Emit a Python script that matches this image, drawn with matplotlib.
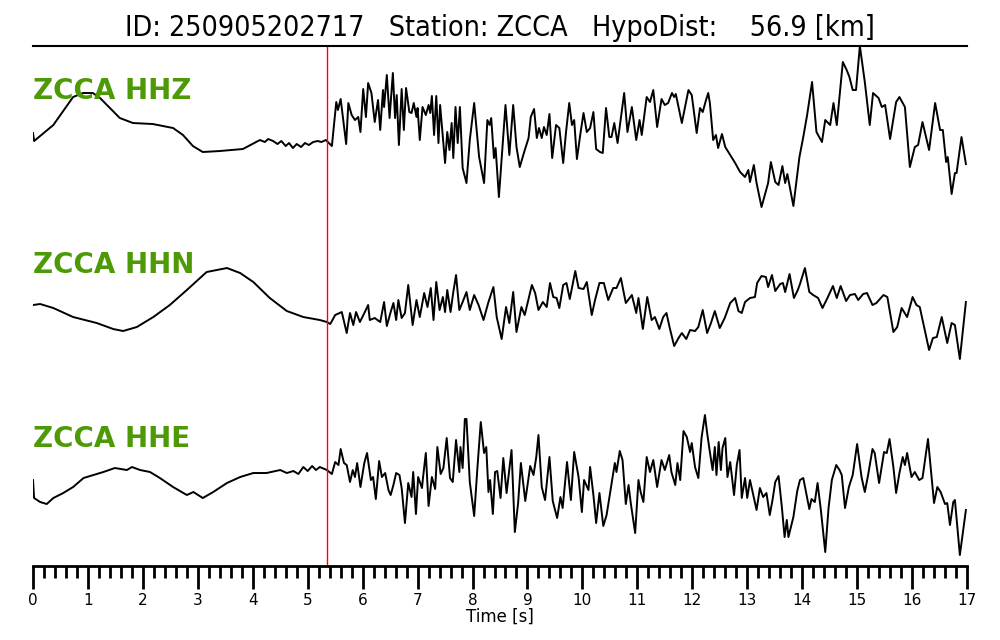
import matplotlib
matplotlib.use("Agg")
import matplotlib.pyplot as plt
from matplotlib.ticker import MultipleLocator

# title info
event_id = "250905202717"
station = "ZCCA"
hypo_dist = 56.9
p_pick = 5.35  # seconds

channels = ["HHZ", "HHN", "HHE"]

# traces (time [s], amplitude in arbitrary counts)
hhz_t = [0.0, 0.02, 0.37, 0.73, 0.91, 1.09, 1.22, 1.40, 1.58, 1.82, 2.18, 2.55, 2.73, 2.91, 3.09,
         3.40, 3.82, 4.13, 4.22, 4.28, 4.37, 4.45, 4.52, 4.60, 4.66, 4.73, 4.80, 4.88, 4.95, 5.02,
         5.10, 5.18, 5.25, 5.33, 5.44,
         5.52, 5.55, 5.60, 5.70, 5.74, 5.80, 5.86, 5.92, 5.96, 6.01, 6.06, 6.10, 6.16, 6.22, 6.28,
         6.32, 6.37, 6.39, 6.44, 6.49, 6.55, 6.59, 6.62, 6.66, 6.71, 6.75, 6.79, 6.85, 6.89, 6.93,
         6.98, 7.00, 7.04, 7.09, 7.15, 7.20, 7.23, 7.26, 7.30, 7.34, 7.38, 7.41, 7.50, 7.54, 7.58,
         7.62, 7.65, 7.69, 7.73, 7.77, 7.82, 7.89, 7.95, 8.03, 8.12, 8.21, 8.27, 8.31, 8.34, 8.39,
         8.42, 8.48, 8.55, 8.60, 8.67, 8.74, 8.80, 8.86, 8.94, 9.02, 9.06, 9.12, 9.17, 9.21, 9.26,
         9.30, 9.35, 9.40, 9.45, 9.52, 9.58, 9.65, 9.70, 9.76, 9.81, 9.85, 9.90, 9.96, 10.02, 10.08,
         10.14, 10.20, 10.25, 10.32, 10.37, 10.43, 10.49, 10.53, 10.58, 10.64, 10.76, 10.82, 10.90,
         10.98, 11.04, 11.08, 11.17, 11.23, 11.29, 11.36, 11.44, 11.50, 11.56, 11.63, 11.67, 11.70,
         11.81, 11.93, 11.99, 12.08, 12.14, 12.19, 12.25, 12.29, 12.32, 12.38, 12.43, 12.47, 12.54,
         12.60, 12.69, 12.78, 12.87, 12.96, 13.02, 13.05, 13.12, 13.17, 13.26, 13.32, 13.38, 13.43,
         13.51, 13.57, 13.64, 13.69, 13.73, 13.84, 13.95, 14.02, 14.09, 14.18, 14.26, 14.36, 14.42,
         14.51, 14.57, 14.63, 14.74, 14.81, 14.86, 14.92, 14.98, 15.05, 15.14, 15.23, 15.29, 15.39,
         15.45, 15.51, 15.60, 15.71, 15.77, 15.87, 15.96, 16.05, 16.11, 16.19, 16.31, 16.42, 16.51,
         16.56, 16.62, 16.65, 16.72, 16.78, 16.81, 16.90, 16.98]
hhz_a = [7, -1, 15, 43, 47, 47, 42, 32, 22, 17, 16, 12, 5, -6, -12,
         -11, -9, 0, -2, 1, -1, -4, -1, -6, -3, -8, -4, -7, -3, -5,
         -2, -1, -2, 0, -6,
         38, 30, 41, -4, 37, 25, 20, 23, 8, 51, 23, 57, 47, 18, 40,
         10, 50, 33, 65, 22, 67, 22, 45, -5, 51, 10, 52, 28, 27, 37,
         23, 32, 0, 33, 25, 35, 27, 44, 5, 44, -3, 35, -23, 8, -10,
         17, -18, 33, -3, 33, -28, -43, 0, 37, -17, -43, 20, 15, 22, -18,
         -8, -57, -3, 35, -15, 35, -7, -27, -12, 2, 23, 31, 2, 12, 2,
         13, 5, 26, -18, 15, 12, -23, 7, 37, 15, 20, -19, 5, 27, 8,
         12, 28, -9, -12, -13, 32, 3, 3, 17, -3, 47, 8, 33,
         0, 20, 5, 43, 38, 50, 13, 41, 35, 37, 47, 43, 46,
         17, 50, 45, 7, 32, 28, 40, 47, 37, 0, 5, -8, 6,
         -7, -15, -23, -32, -37, -30, -42, -25, -43, -67, -55, -43, -22,
         -42, -45, -26, -43, -34, -66, -17, 3, 25, 58, 8, -2, 20,
         15, 37, 15, 78, 70, 63, 50, 50, 94, 58, 15, 47, 42,
         33, 35, 1, 38, 43, 33, -27, -7, -5, 18, -10, 37, 10,
         10, -22, -17, -54, -33, -33, 3, -24]

hhn_t = [0.0, 0.13, 0.37, 0.73, 1.16, 1.46, 1.64, 1.89, 2.19, 2.49, 2.80, 3.16, 3.53, 3.77, 4.01,
         4.31, 4.62, 4.92, 5.22, 5.35, 5.41,
         5.50, 5.62, 5.71, 5.77, 5.83, 5.88, 5.95, 6.04, 6.10, 6.13, 6.22, 6.32, 6.39, 6.44, 6.51,
         6.56, 6.61, 6.65, 6.71, 6.77, 6.83, 6.91, 6.98, 7.04, 7.12, 7.18, 7.24, 7.29, 7.34, 7.40,
         7.46, 7.50, 7.54, 7.60, 7.65, 7.70, 7.76, 7.82, 7.89, 7.95, 8.03, 8.11, 8.20, 8.29, 8.38,
         8.44, 8.53, 8.61, 8.67, 8.74, 8.80, 8.89, 8.95, 9.08, 9.14, 9.20, 9.28, 9.35, 9.41, 9.47,
         9.53, 9.58, 9.65, 9.71, 9.77, 9.87, 9.93, 10.02, 10.08, 10.17, 10.23, 10.31, 10.39, 10.47,
         10.56, 10.62, 10.70, 10.79, 10.90, 10.98, 11.02, 11.10, 11.18, 11.26, 11.32, 11.40, 11.47,
         11.53, 11.59, 11.67, 11.75, 11.81, 11.89, 11.96, 12.05, 12.11, 12.19, 12.27, 12.34, 12.41,
         12.50, 12.59, 12.69, 12.78, 12.84, 12.90, 12.96, 13.05, 13.14, 13.18, 13.26, 13.34, 13.38,
         13.45, 13.51, 13.60, 13.65, 13.69, 13.77, 13.85, 13.92, 13.96, 14.05, 14.13, 14.20, 14.29,
         14.37, 14.46, 14.56, 14.63, 14.70, 14.80, 14.87, 14.96, 15.02, 15.11, 15.18, 15.28, 15.35,
         15.48, 15.55, 15.66, 15.73, 15.81, 15.91, 16.01, 16.08, 16.14, 16.31, 16.38, 16.45, 16.54,
         16.64, 16.72, 16.78, 16.87, 16.98]
hhn_a = [0, 1, -3, -12, -18, -24, -26, -22, -12, 0, 15, 33, 37, 32, 23,
         7, -6, -12, -15, -17, -19,
         -10, -7, -28, -8, -20, -7, -17, -7, 0, -15, -13, -17, 3, -21, -7,
         2, -15, 5, -13, -8, 20, -20, 5, -12, 12, -2, 17, -15, 23, -5,
         8, -7, 15, -7, 13, 30, -5, 3, 13, -5, 10, 0, -15, 3, 18,
         -12, -34, -2, -18, 13, -27, -2, -10, 20, 12, -5, 3, -2, 22, 8,
         7, -3, 20, 22, 6, 34, 17, 16, 23, -10, 5, 22, 22, 5,
         17, 17, 27, 2, 10, -8, 7, -24, 8, -15, -12, -24, -12,
         -8, -23, -41, -33, -28, -34, -25, -26, -22, -5, -28, -18, -6,
         -23, -13, 2, 7, -6, -8, 3, 7, 8, 22, 29, 28, 18,
         30, 14, 21, 22, 13, 31, 7, 15, 21, 37, 13, 10, 7,
         -3, 7, 19, 7, 19, 4, 10, 11, 5, 11, 12, 0, 2,
         10, 8, -27, -22, -3, -12, 8, 0, -2, -45, -33, -32, -12,
         -38, -18, -20, -54, 3]

hhe_t = [0.0, 0.02, 0.13, 0.25, 0.37, 0.55, 0.73, 0.92, 1.10, 1.28, 1.49, 1.71, 1.80, 1.95, 2.13,
         2.31, 2.55, 2.80, 2.92, 3.09, 3.28, 3.53, 3.77, 4.01, 4.25, 4.50, 4.62, 4.74, 4.83, 4.92,
         5.00, 5.08, 5.15, 5.22, 5.35, 5.44,
         5.50, 5.56, 5.60, 5.66, 5.71, 5.77, 5.82, 5.86, 5.90, 5.96, 6.03, 6.08, 6.15, 6.19, 6.24,
         6.30, 6.35, 6.41, 6.47, 6.51, 6.56, 6.61, 6.67, 6.71, 6.77, 6.83, 6.89, 6.92, 6.97, 7.01,
         7.08, 7.10, 7.15, 7.20, 7.26, 7.32, 7.36, 7.42, 7.47, 7.53, 7.59, 7.64, 7.70, 7.76, 7.78,
         7.82, 7.86, 7.89, 7.95, 8.03, 8.09, 8.15, 8.21, 8.25, 8.29, 8.32, 8.37, 8.41, 8.45, 8.51,
         8.56, 8.62, 8.71, 8.77, 8.83, 8.88, 8.96, 9.05, 9.11, 9.16, 9.20, 9.26, 9.32, 9.40, 9.46,
         9.54, 9.60, 9.64, 9.72, 9.79, 9.85, 9.93, 9.99, 10.03, 10.11, 10.14, 10.20, 10.25, 10.31,
         10.38, 10.44, 10.52, 10.59, 10.62, 10.68, 10.73, 10.79, 10.84, 10.88, 10.96, 11.02, 11.06,
         11.11, 11.17, 11.23, 11.29, 11.36, 11.44, 11.50, 11.58, 11.62, 11.69, 11.73, 11.78, 11.84,
         11.90, 11.96, 11.99, 12.05, 12.11, 12.17, 12.23, 12.27, 12.32, 12.37, 12.41, 12.44, 12.48,
         12.52, 12.55, 12.60, 12.64, 12.69, 12.76, 12.81, 12.86, 12.90, 12.96, 13.00, 13.05, 13.11,
         13.17, 13.23, 13.29, 13.35, 13.41, 13.46, 13.51, 13.57, 13.63, 13.68, 13.72, 13.75, 13.79,
         13.84, 13.91, 13.96, 14.02, 14.13, 14.17, 14.23, 14.28, 14.34, 14.42, 14.48, 14.54, 14.62,
         14.68, 14.72, 14.78, 14.85, 14.92, 15.00, 15.08, 15.14, 15.20, 15.28, 15.32, 15.40, 15.49,
         15.54, 15.59, 15.66, 15.71, 15.77, 15.83, 15.87, 15.91, 15.99, 16.05, 16.13, 16.19, 16.29,
         16.40, 16.46, 16.52, 16.60, 16.64, 16.69, 16.75, 16.78, 16.87, 16.98]
hhe_a = [-10, -28, -32, -34, -28, -23, -17, -8, -5, -2, 2, 0, 3, 0, -2,
         -8, -17, -25, -22, -28, -22, -13, -7, -3, -3, 0, -3, -1, -4, 3,
         -1, 4, 0, 3, 0, -4,
         8, 5, 21, 7, 5, -12, 0, -7, 7, -17, 7, 17, -10, -7, -29,
         9, -7, -3, -20, -25, -15, -3, -5, -18, -53, -13, -27, -2, -44, -7,
         -18, -7, 17, -36, -7, -19, 23, -4, 2, 32, -8, -12, 30, -2, 23,
         2, 51, 51, -12, -46, 3, 48, 17, 23, -22, -10, -44, -2, -1, -28,
         12, -23, 20, -62, -33, 7, -31, 4, -5, 13, 35, -17, -30, 13, -31,
         -48, -27, -38, 8, -30, 18, -7, -42, -10, -20, 3, -25, -53, -23,
         -56, -45, -17, 7, -2, 19, 10, -34, -15, -33, -63, -10, -22,
         -32, 13, -2, 10, -17, 10, 0, 15, -2, -15, 7, -10, 39,
         33, 18, 27, 3, -8, 33, 55, 37, 18, 0, 23, -5, 28,
         0, 22, 32, -7, 8, -25, 5, 20, -28, -8, -28, -10, -25,
         -40, -18, -27, -23, -45, -30, -12, -6, -37, -67, -50, -67, -58,
         -47, -21, -10, -8, -39, -29, -32, -13, -40, -82, -38, -10, 5,
         0, -5, -38, -17, -5, 26, -7, -22, -5, 21, 17, -13, 18,
         17, 31, 3, -23, -3, 13, 5, 17, -7, -2, -10, -8, 31,
         -33, -17, -22, -34, -33, -55, -32, -30, -85, -40]

traces = [(hhz_t, hhz_a), (hhn_t, hhn_a), (hhe_t, hhe_a)]
spacing = 165  # vertical distance between traces, in counts
label_lift = [49, 40, 31]  # channel label height above each trace baseline

fig = plt.figure(figsize=(10, 6.4), dpi=100)
ax = fig.add_axes([0.033, 0.1156, 0.934, 0.8125])

for i, (t, a) in enumerate(traces):
    off = -i * spacing
    ax.plot(t, [v + off for v in a], color="black", lw=1.4)
    ax.text(0.0, off + label_lift[i], f"{station} {channels[i]}", color="#4e9a06",
            fontsize=20, fontweight="bold", va="center", ha="left")

ax.axvline(p_pick, color="red", lw=1)

ax.set_xlim(0, 17)
ax.set_ylim(-426, 94)
ax.xaxis.set_major_locator(MultipleLocator(1))
ax.xaxis.set_minor_locator(MultipleLocator(0.2))
ax.tick_params(axis="x", which="major", length=16.5, width=2, labelsize=11, pad=3)
ax.tick_params(axis="x", which="minor", length=8.5, width=2)
ax.set_yticks([])
for s in ["left", "right"]:
    ax.spines[s].set_visible(False)
ax.spines["top"].set_linewidth(1.5)
ax.spines["bottom"].set_linewidth(2)
ax.set_xlabel("Time [s]", fontsize=12, labelpad=0)

fig.text(0.5, 0.957, f"ID: {event_id}   Station: {station}   HypoDist:    {hypo_dist} [km]",
         ha="center", va="center", fontsize=20.5, fontstretch="condensed")

fig.savefig("out.png", dpi=100)
